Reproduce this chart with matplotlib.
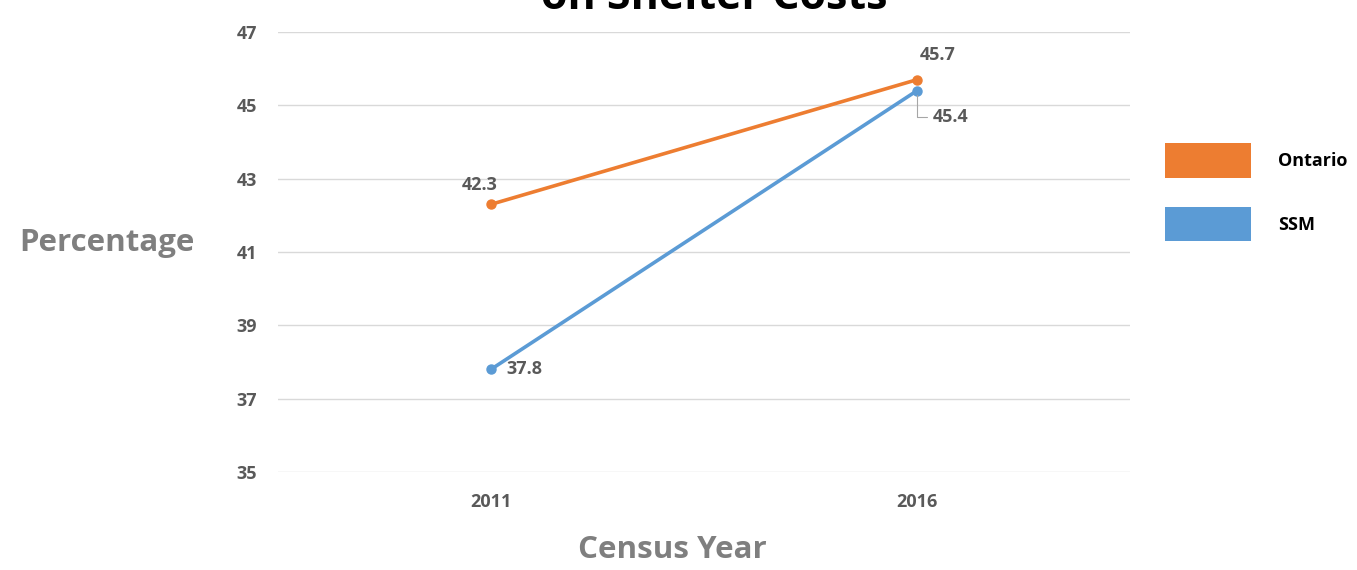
import matplotlib
matplotlib.use("Agg")
import matplotlib.pyplot as plt
from matplotlib.patches import Rectangle

years = ["2011", "2016"]
ontario = [42.3, 45.7]
ssm = [37.8, 45.4]
yticks = [35, 37, 39, 41, 43, 45, 47]
series_names = ["Ontario", "SSM"]

ORANGE = "#ED7D31"
BLUE = "#5B9BD5"
TICK = "#595959"
AXLAB = "#7F7F7F"
FONT = "Open Sans"

W, H = 1357, 570
fig = plt.figure(figsize=(W / 100, H / 100), dpi=100)
ax = fig.add_axes([278 / W, 1 - 472 / H, 852 / W, 440 / H])

x = list(range(len(years)))
ax.plot(x, ontario, color=ORANGE, lw=2.6, marker="o", ms=6.5, zorder=3)
ax.plot(x, ssm, color=BLUE, lw=2.6, marker="o", ms=6.5, zorder=3)

ax.set_xlim(-0.5, 1.5)
ax.set_ylim(35, 47)
ax.set_yticks(yticks)
ax.set_xticks(x)
ax.set_xticklabels(years)
ax.grid(axis="y", color="#D9D9D9", lw=1)
ax.set_axisbelow(True)
for s in ax.spines.values():
    s.set_visible(False)
ax.tick_params(length=0, labelsize=13, labelcolor=TICK)
for lab in ax.get_xticklabels() + ax.get_yticklabels():
    lab.set_fontweight("bold")
    lab.set_fontfamily(FONT)
ax.tick_params(axis="x", pad=15)
ax.tick_params(axis="y", pad=15)

lbl = dict(fontsize=13, color=TICK, fontweight="bold", family=FONT)
ax.annotate(f"{ontario[0]}", (x[0], ontario[0]), xytext=(-8, 14), textcoords="offset points", ha="center", va="center", **lbl)
ax.annotate(f"{ontario[1]}", (x[1], ontario[1]), xytext=(15, 18), textcoords="offset points", ha="center", va="center", **lbl)
ax.annotate(f"{ssm[0]}", (x[0], ssm[0]), xytext=(11, 0), textcoords="offset points", ha="left", va="center", **lbl)
ax.annotate(f"{ssm[1]}", (x[1], ssm[1]), xytext=(11, -19), textcoords="offset points", ha="left", va="center",
            arrowprops=dict(arrowstyle="-", color="#A6A6A6", lw=0.8, connectionstyle="angle,angleA=0,angleB=90,rad=0",
                            shrinkA=2, shrinkB=3), **lbl)

fig.text(714 / W, 1 - 9 / H, "on Shelter Costs", ha="center", va="baseline", fontsize=31, fontweight="bold",
         color="black", family=FONT)
fig.text(107 / W, 1 - 243 / H, "Percentage", ha="center", va="center", fontsize=22.5, fontweight="bold",
         color=AXLAB, family=FONT)
fig.text(672 / W, 1 - 550 / H, "Census Year", ha="center", va="center", fontsize=22.5, fontweight="bold",
         color=AXLAB, family=FONT)

# legend
for (name, col, y0, y1, tx) in [(series_names[0], ORANGE, 143, 178, 161), (series_names[1], BLUE, 207, 241, 225)]:
    fig.patches.append(Rectangle((1165 / W, 1 - y1 / H), 86 / W, (y1 - y0) / H, transform=fig.transFigure,
                                 facecolor=col, edgecolor="none"))
    fig.text(1278 / W, 1 - tx / H, name, ha="left", va="center", fontsize=13, fontweight="bold",
             color="black", family=FONT)

fig.savefig("out.png", dpi=100)
